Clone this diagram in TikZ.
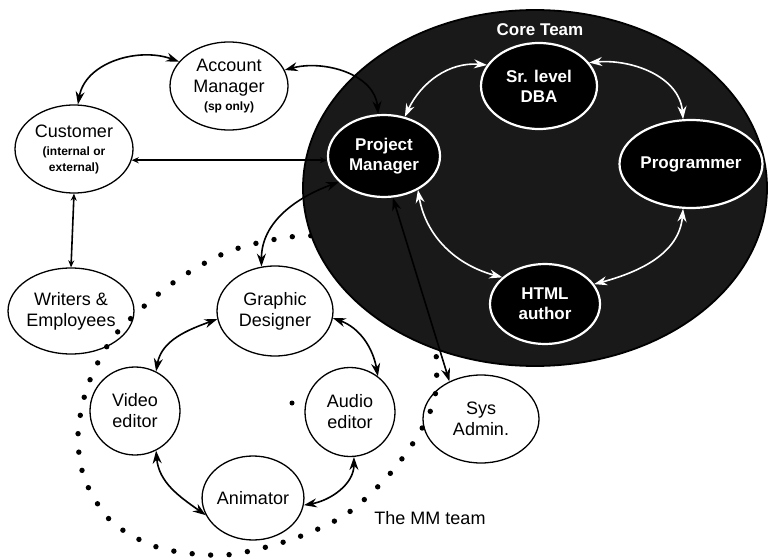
\documentclass[tikz,border=0pt]{standalone}
\usepackage{fontspec}
\setmainfont{Liberation Sans}
\usetikzlibrary{shapes.geometric,arrows.meta}
\newcommand\notefont{\fontsize{12}{14}\selectfont\bfseries}

\tikzset{
	role/.style={draw, ellipse, line width=1.3pt, align=center, inner sep=0pt},
	corerole/.style={draw=white, ellipse, line width=2.2pt, align=center, inner sep=0pt, fill=black, text=white, font=\fontsize{17}{20}\selectfont\bfseries},
	both/.style={{Stealth[length=13pt,width=9pt]}-{Stealth[length=13pt,width=9pt]}, line width=1.6pt},
	bothsmall/.style={{Stealth[length=7pt,width=6pt]}-{Stealth[length=7pt,width=6pt]}, line width=1.6pt},
	mmdots/.style={line width=5.4pt, line cap=round, dash pattern=on 0pt off 18.5pt}
}

\begin{document}
\begin{tikzpicture}[x=1pt, y=1pt, font=\fontsize{18}{21}\selectfont]
				\useasboundingbox (0,-559) rectangle (771,0);
				
				\draw[mmdots] plot[smooth cycle] coordinates {(405,-265) (432,-320) (436,-390) (420,-432) (388,-476) (345,-515) (290,-540) (225,-555) (160,-548) (112,-522) (85,-480) (78,-435) (88,-385) (115,-335) (170,-285) (230,-251) (300,-236) (370,-242)};
				\fill (292,-403) circle (2.5);
				
				\draw[line width=1.8pt, fill=black!90] (535,-188) ellipse (232 and 178);
				\node[text=white, font=\fontsize{17}{20}\selectfont\bfseries] (coretitle) at (540,-30) {Core Team};
				
				\node[corerole, minimum width=112, minimum height=82] (pm) at (384,-156) {Project\\Manager};
				\node[corerole, minimum width=116, minimum height=86] (dba) at (539,-86) {Sr. level\\DBA};
				\node[corerole, minimum width=122, minimum height=88] (prog) at (691,-164) {Programmer};
				\node[corerole, minimum width=110, minimum height=80] (html) at (545,-304) {HTML\\author};
				
				\node[role, minimum width=118, minimum height=88] (am) at (229,-86) {Account\\Manager\\[-3pt]{\notefont (sp only)}};
				\node[role, minimum width=118, minimum height=88] (cust) at (74,-149) {Customer\\[-3pt]{\notefont (internal or}\\[-5pt]{\notefont external)}};
				\node[role, minimum width=116, minimum height=86] (wri) at (71,-311) {Writers \&\\Employees};
				\node[role, minimum width=116, minimum height=90] (gd) at (275,-311) {Graphic\\Designer};
				\node[role, minimum width=90, minimum height=88] (vid) at (135,-411) {Video\\editor};
				\node[role, minimum width=90, minimum height=89] (aud) at (350,-412) {Audio\\editor};
				\node[role, minimum width=90, minimum height=84] (ani) at (253,-498) {Animator};
				\node[role, minimum width=116, minimum height=88] (sys) at (481,-419) {Sys\\Admin.};
				\node (mmtitle) at (430,-518) {The MM team};
				
				\draw[both, white] (pm.62) to[out=65, in=175] (dba.158);
				\draw[both, white] (dba.25) to[out=5, in=95] (prog.100);
				\draw[both, white] (prog.-100) to[out=-95, in=15] (html.22);
				\draw[both, white] (pm.-45) to[out=-80, in=165] (html.148);
				
				\draw[both] (am.154) to[out=160, in=80] (cust.85);
				\draw[both] (am.16) to[out=15, in=95] (pm.98);
				\draw[bothsmall] (cust.-11) -- (cust.-11 -| pm.west);
				\draw[bothsmall] (cust.south) -- (wri.north);
				\draw[both] (pm.210) to[out=200, in=90] (gd.107);
				\draw[both] (pm.-78) -- (sys.130);
				
				\draw[both] (gd.188) to[out=200, in=80] (vid.62);
				\draw[both] (gd.-7) to[out=-20, in=100] (aud.52);
				\draw[both] (vid.-62) to[out=-85, in=145] (ani.200);
				\draw[both] (aud.-85) to[out=-90, in=10] (ani.-8);
			\end{tikzpicture}
\end{document}
